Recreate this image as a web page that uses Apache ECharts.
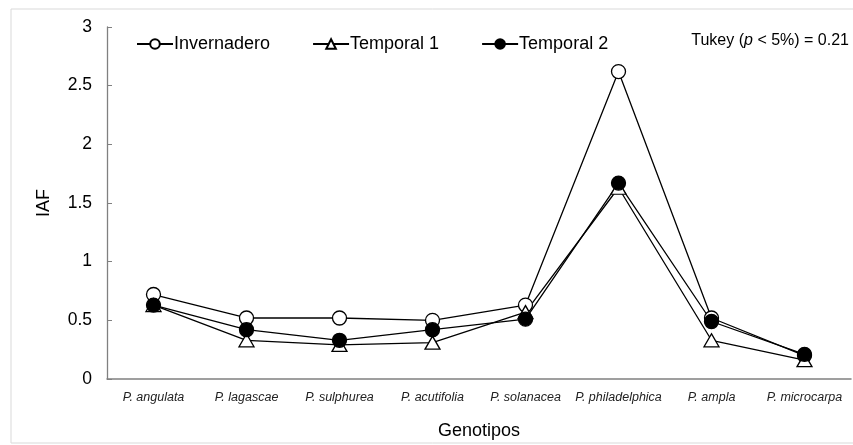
<!DOCTYPE html>
<html>
<head>
<meta charset="utf-8">
<script src="https://cdn.jsdelivr.net/npm/echarts@6/dist/echarts.min.js"></script>
<style>
  html, body { margin: 0; padding: 0; background: #fff; }
  #container { width: 853px; height: 445px; }
</style>
</head>
<body>
<div id="container"></div>
<script>
// datos
var genotipos = ['P. angulata', 'P. lagascae', 'P. sulphurea', 'P. acutifolia',
    'P. solanacea', 'P. philadelphica', 'P. ampla', 'P. microcarpa'];
var invernadero = [0.72, 0.52, 0.52, 0.50, 0.63, 2.62, 0.52, 0.20];
var temporal1 = [0.63, 0.33, 0.29, 0.31, 0.57, 1.63, 0.33, 0.16];
var temporal2 = [0.63, 0.42, 0.33, 0.42, 0.51, 1.67, 0.49, 0.21];
var nombres = ['Invernadero', 'Temporal 1', 'Temporal 2'];

var fuente = 'Liberation Sans, Arial, sans-serif';

var makeSerie = function (name, data, symbol, fill, size) {
    return {
        name: name,
        type: 'line',
        data: data,
        symbol: symbol,
        symbolSize: size,
        showAllSymbol: true,
        lineStyle: { color: '#000', width: 1.3 },
        itemStyle: { color: fill, borderColor: '#000', borderWidth: 1.3 },
        emphasis: { disabled: true }
    };
};

var dom = document.getElementById('container');
var myChart = echarts.init(dom);
var option = {
    animation: false,
    textStyle: { fontFamily: fuente },
    graphic: [{
        type: 'rect',
        shape: { x: 11, y: 9, width: 860, height: 434 },
        style: { fill: 'none', stroke: '#d9d9d9', lineWidth: 1 },
        silent: true
    }, {
        type: 'text',
        right: 4,
        top: 33,
        style: {
            text: '{n|Tukey (}{i|p}{n| < 5%) = 0.21}',
            rich: {
                n: { fontSize: 16, fontFamily: fuente, fill: '#000' },
                i: { fontSize: 16, fontFamily: fuente, fontStyle: 'italic', fill: '#000' }
            }
        }
    }],
    legend: {
        left: 131,
        top: 30,
        itemWidth: 36,
        itemHeight: 12,
        itemGap: 42,
        data: nombres,
        textStyle: { fontSize: 18, color: '#000', fontFamily: fuente, padding: [0, 0, 0, -4] },
        selectedMode: false
    },
    grid: { left: 107, right: 2, top: 27, bottom: 65 },
    xAxis: {
        type: 'category',
        data: genotipos,
        name: 'Genotipos',
        nameLocation: 'middle',
        nameGap: 43,
        nameTextStyle: { fontSize: 18, color: '#000' },
        axisLine: { lineStyle: { color: '#808080', width: 1.5 } },
        axisTick: { show: false },
        axisLabel: { fontSize: 12.5, fontStyle: 'italic', color: '#222', margin: 12, interval: 0 }
    },
    yAxis: {
        type: 'value',
        min: 0,
        max: 3,
        interval: 0.5,
        name: 'IAF',
        nameLocation: 'middle',
        nameGap: 54,
        nameTextStyle: { fontSize: 18, color: '#000' },
        axisLine: { show: true, lineStyle: { color: '#808080', width: 1.3 } },
        axisTick: { show: true, inside: true, length: 5, lineStyle: { color: '#808080' } },
        axisLabel: { fontSize: 17.5, color: '#000', margin: 15 },
        splitLine: { show: false }
    },
    series: [
        makeSerie(nombres[0], invernadero, 'circle', '#fff', 14),
        makeSerie(nombres[1], temporal1, 'triangle', '#fff', [15, 13]),
        makeSerie(nombres[2], temporal2, 'circle', '#000', 14)
    ]
};
myChart.setOption(option);
</script>
</body>
</html>
